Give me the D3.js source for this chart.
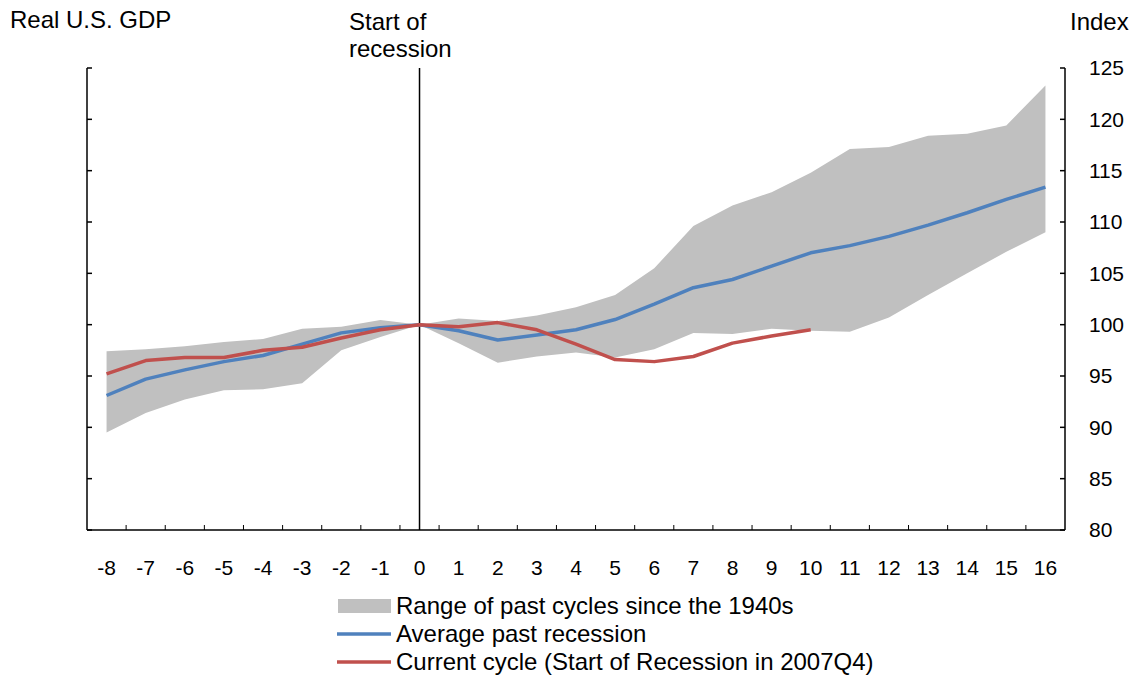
<!DOCTYPE html>
<html>
<head>
<meta charset="utf-8">
<script src="https://cdn.jsdelivr.net/npm/d3@7.9.0/dist/d3.min.js"></script>
<style>
  body { margin: 0; background: #fff; }
  svg text { font-family: "Liberation Sans", Arial, sans-serif; fill: #000; }
</style>
</head>
<body>
<svg id="chart" width="1141" height="677"></svg>
<script>
// quarters relative to start of recession
const quarters = [-8, -7, -6, -5, -4, -3, -2, -1, 0, 1, 2, 3, 4, 5, 6, 7, 8, 9, 10, 11, 12, 13, 14, 15, 16];

const rangeHigh = [97.4, 97.6, 97.9, 98.3, 98.6, 99.6, 99.8, 100.45, 100, 100.6, 100.35, 100.9, 101.7, 102.9, 105.5, 109.6, 111.6, 112.9, 114.8, 117.1, 117.3, 118.4, 118.6, 119.4, 123.3];
const rangeLow = [89.5, 91.4, 92.7, 93.6, 93.7, 94.3, 97.5, 98.8, 100, 98.2, 96.3, 96.9, 97.3, 96.8, 97.6, 99.2, 99.1, 99.6, 99.4, 99.3, 100.7, 102.9, 105.0, 107.1, 109.0];
const averagePast = [93.1, 94.7, 95.6, 96.4, 97.0, 98.1, 99.2, 99.7, 100, 99.4, 98.5, 99.0, 99.5, 100.5, 102.0, 103.6, 104.4, 105.7, 107.0, 107.7, 108.6, 109.7, 110.9, 112.2, 113.4];
// current cycle only runs to quarter 10
const currentCycle = [95.2, 96.5, 96.8, 96.8, 97.5, 97.8, 98.7, 99.5, 100, 99.8, 100.2, 99.5, 98.1, 96.6, 96.4, 96.9, 98.2, 98.9, 99.5];

const yTicks = [80, 85, 90, 95, 100, 105, 110, 115, 120, 125];

const legendItems = [
    { label: 'Range of past cycles since the 1940s', type: 'area', color: '#c0c0c0' },
    { label: 'Average past recession', type: 'line', color: '#4f81bd' },
    { label: 'Current cycle (Start of Recession in 2007Q4)', type: 'line', color: '#c0504d' },
];

const svg = d3.select('#chart');
const plotLeft = 87, plotRight = 1065, plotTop = 68, plotBottom = 530;

const x = d3.scaleBand().domain(quarters).range([plotLeft, plotRight]).padding(0);
const xc = (q) => x(q) + x.bandwidth() / 2;
const y = d3.scaleLinear().domain([80, 125]).range([plotBottom, plotTop]);

// shaded range
const area = d3.area()
    .x((d, i) => xc(quarters[i]))
    .y0((d, i) => y(rangeLow[i]))
    .y1((d) => y(d));
svg.append('path')
    .datum(rangeHigh)
    .attr('d', area)
    .attr('fill', '#c0c0c0');

// start of recession marker
svg.append('line')
    .attr('x1', xc(0)).attr('x2', xc(0))
    .attr('y1', plotTop).attr('y2', plotBottom)
    .attr('stroke', '#000').attr('stroke-width', 1.5);

const line = d3.line()
    .x((d, i) => xc(quarters[i]))
    .y((d) => y(d));

svg.append('path')
    .datum(averagePast)
    .attr('d', line)
    .attr('fill', 'none')
    .attr('stroke', '#4f81bd')
    .attr('stroke-width', 3.5)
    .attr('stroke-linejoin', 'round');

svg.append('path')
    .datum(currentCycle)
    .attr('d', line)
    .attr('fill', 'none')
    .attr('stroke', '#c0504d')
    .attr('stroke-width', 3.5)
    .attr('stroke-linejoin', 'round');

// axes
const axisG = svg.append('g').attr('stroke', '#000').attr('stroke-width', 1.5);
axisG.append('line').attr('x1', plotLeft).attr('x2', plotLeft).attr('y1', plotTop).attr('y2', plotBottom);
axisG.append('line').attr('x1', plotRight).attr('x2', plotRight).attr('y1', plotTop).attr('y2', plotBottom);
axisG.append('line').attr('x1', plotLeft).attr('x2', plotRight).attr('y1', plotBottom).attr('y2', plotBottom);

yTicks.forEach((t) => {
    axisG.append('line').attr('x1', plotLeft).attr('x2', plotLeft + 5).attr('y1', y(t)).attr('y2', y(t));
    axisG.append('line').attr('x1', plotRight - 5).attr('x2', plotRight).attr('y1', y(t)).attr('y2', y(t));
    svg.append('text')
        .attr('x', 1089)
        .attr('y', y(t))
        .attr('dy', '0.35em')
        .attr('font-size', 21)
        .text(t);
});

// small ticks between the quarters
quarters.slice(1).forEach((q) => {
    axisG.append('line')
        .attr('x1', x(q)).attr('x2', x(q))
        .attr('y1', plotBottom).attr('y2', plotBottom - 5)
        .attr('stroke-width', 1);
});

quarters.forEach((q) => {
    svg.append('text')
        .attr('x', xc(q))
        .attr('y', 568)
        .attr('dy', '0.35em')
        .attr('text-anchor', 'middle')
        .attr('font-size', 21)
        .text(q);
});

// titles
svg.append('text').attr('x', 10).attr('y', 28).attr('font-size', 24).text('Real U.S. GDP');
svg.append('text').attr('x', 1070).attr('y', 30).attr('font-size', 24).text('Index');
svg.append('text').attr('x', 349).attr('y', 30).attr('font-size', 24).text('Start of');
svg.append('text').attr('x', 349).attr('y', 57).attr('font-size', 24).text('recession');

// legend
const legend = svg.append('g');
legendItems.forEach((item, i) => {
    const cy = 606 + i * 28;
    if (item.type === 'area') {
        legend.append('rect')
            .attr('x', 338).attr('y', cy - 7)
            .attr('width', 53).attr('height', 14)
            .attr('fill', item.color);
    } else {
        legend.append('line')
            .attr('x1', 337).attr('x2', 391)
            .attr('y1', cy).attr('y2', cy)
            .attr('stroke', item.color)
            .attr('stroke-width', 3.5);
    }
    legend.append('text')
        .attr('x', 396)
        .attr('y', cy + 8)
        .attr('font-size', 24)
        .text(item.label);
});
</script>
</body>
</html>
